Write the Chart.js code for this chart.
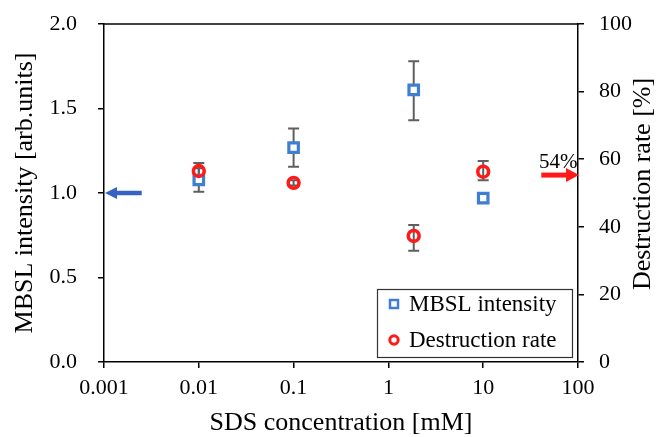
<!DOCTYPE html>
<html><head><meta charset="utf-8">
<script src="https://cdn.jsdelivr.net/npm/chart.js@4.4.0/dist/chart.umd.min.js"></script>
<style>html,body{margin:0;padding:0;background:#fff}#wrap{width:656px;height:437px}</style>
</head><body><div id="wrap"><canvas id="c" width="656" height="437"></canvas></div>
<script>
// ---- data ----
const concentrations = [0.01, 0.1, 1.85, 10];
const mbsl = [1.077, 1.268, 1.61, 0.97];
const mbslErrLow = [1.007, 1.155, 1.43, 0.955];
const mbslErrHigh = [1.147, 1.382, 1.78, 0.985];
const destruction = [56.5, 53.0, 37.3, 56.3];
const destErrLow = [54.0, 52.2, 32.9, 53.8];
const destErrHigh = [58.9, 53.8, 40.5, 59.5];
const xTickValues = [0.001, 0.01, 0.1, 1, 10, 100];
const xTickLabels = ['0.001', '0.01', '0.1', '1', '10', '100'];
const seriesNames = ['MBSL intensity', 'Destruction rate'];
const rightTitle = 'Destruction rate [%]';
const mbslRef = 1.0;
const mbslArrowFrom = 0.0025;
const destRefLabel = '54%';
const destArrowY = 55.3;
const destArrowFrom = 41;

const SERIF = "'Liberation Serif', 'Times New Roman', serif";
const BLUE = '#3f7fcf';
const RED = '#ff1a1a';
const ERR = '#5f5f5f';

const errorBars = {
  id: 'errorBars',
  beforeDatasetsDraw(chart) {
    const ctx = chart.ctx, xs = chart.scales.x;
    const sets = [
      {ys: chart.scales.y, lo: mbslErrLow, hi: mbslErrHigh},
      {ys: chart.scales.y2, lo: destErrLow, hi: destErrHigh}
    ];
    ctx.save();
    ctx.strokeStyle = ERR; ctx.lineWidth = 2;
    sets.forEach(s => {
      concentrations.forEach((c, i) => {
        const px = xs.getPixelForValue(c);
        const y1 = s.ys.getPixelForValue(s.lo[i]);
        const y2 = s.ys.getPixelForValue(s.hi[i]);
        ctx.beginPath();
        ctx.moveTo(px, y1); ctx.lineTo(px, y2);
        ctx.moveTo(px - 5.5, y1); ctx.lineTo(px + 5.5, y1);
        ctx.moveTo(px - 5.5, y2); ctx.lineTo(px + 5.5, y2);
        ctx.stroke();
      });
    });
    ctx.restore();
  }
};

function arrow(ctx, x0, x1, y, color, thick, headLen, headH) {
  const dir = Math.sign(x1 - x0);
  const hb = x1 - dir * headLen;
  ctx.save();
  ctx.fillStyle = color;
  ctx.fillRect(Math.min(x0, hb), y - thick / 2, Math.abs(hb - x0), thick);
  ctx.beginPath();
  ctx.moveTo(x1, y);
  ctx.lineTo(hb, y - headH / 2);
  ctx.lineTo(hb, y + headH / 2);
  ctx.closePath();
  ctx.fill();
  ctx.restore();
}

const extras = {
  id: 'extras',
  afterDraw(chart) {
    const ctx = chart.ctx, xs = chart.scales.x, ys = chart.scales.y, y2 = chart.scales.y2;
    const ca = chart.chartArea;
    // top frame
    ctx.save();
    ctx.strokeStyle = '#000'; ctx.lineWidth = 1.5;
    ctx.beginPath(); ctx.moveTo(ca.left - 0.75, ca.top); ctx.lineTo(ca.right + 0.75, ca.top); ctx.stroke();
    ctx.restore();
    // right axis title (reads bottom to top)
    ctx.save();
    ctx.translate(643, (ca.top + ca.bottom) / 2 - 9);
    ctx.rotate(-Math.PI / 2);
    ctx.fillStyle = '#000';
    ctx.font = '26px ' + SERIF;
    ctx.textAlign = 'center'; ctx.textBaseline = 'middle';
    ctx.fillText(rightTitle, 0, 0);
    ctx.restore();
    // arrows
    const by = ys.getPixelForValue(mbslRef);
    arrow(ctx, xs.getPixelForValue(mbslArrowFrom), xs.getPixelForValue(xTickValues[0]) + 1, by, '#3562c4', 4.5, 12, 12);
    const ry = y2.getPixelForValue(destArrowY);
    arrow(ctx, xs.getPixelForValue(destArrowFrom), xs.getPixelForValue(xTickValues[xTickValues.length - 1]) + 1, ry, '#ff1a1a', 5, 13, 14);
    ctx.save();
    ctx.fillStyle = '#000';
    ctx.font = '21px ' + SERIF;
    ctx.textAlign = 'center'; ctx.textBaseline = 'alphabetic';
    ctx.fillText(destRefLabel, xs.getPixelForValue(destArrowFrom) + 17, ry - 7);
    ctx.restore();
    // legend
    ctx.save();
    const lx = 377, ly = 289, lw = 195, lh = 68;
    ctx.fillStyle = '#fff';
    ctx.fillRect(lx, ly, lw, lh);
    ctx.strokeStyle = '#333'; ctx.lineWidth = 1.2;
    ctx.strokeRect(lx + 0.5, ly + 0.5, lw, lh);
    ctx.lineWidth = 2.5;
    ctx.strokeStyle = BLUE; ctx.fillStyle = '#fff';
    ctx.beginPath(); ctx.rect(394 - 4, 304 - 4, 8, 8); ctx.fill(); ctx.stroke();
    ctx.strokeStyle = RED; ctx.lineWidth = 3;
    ctx.beginPath(); ctx.arc(394, 340, 4.2, 0, Math.PI * 2); ctx.stroke();
    ctx.fillStyle = '#000';
    ctx.font = '23px ' + SERIF;
    ctx.textAlign = 'left'; ctx.textBaseline = 'middle';
    ctx.fillText(seriesNames[0], 409, 305);
    ctx.fillText(seriesNames[1], 409, 341);
    ctx.restore();
  }
};

const axisCommon = {
  grid: {display: true, drawOnChartArea: false, drawTicks: true, tickLength: 6, color: '#000', lineWidth: 1.5},
  border: {display: true, color: '#000', width: 1.5}
};

new Chart(document.getElementById('c'), {
  type: 'scatter',
  data: {
    datasets: [
      {
        label: seriesNames[0], yAxisID: 'y', order: 2,
        data: concentrations.map((c, i) => ({x: c, y: mbsl[i]})),
        pointStyle: 'rect', pointRadius: 6.7, pointHoverRadius: 6.7,
        borderColor: BLUE, backgroundColor: '#fff', pointBorderWidth: 3.2, borderWidth: 3.2
      },
      {
        label: seriesNames[1], yAxisID: 'y2', order: 1,
        data: concentrations.map((c, i) => ({x: c, y: destruction[i]})),
        pointStyle: 'circle', pointRadius: 5.4, pointHoverRadius: 5.4,
        borderColor: RED, backgroundColor: 'rgba(0,0,0,0)', pointBorderWidth: 3.6, borderWidth: 3.6
      }
    ]
  },
  options: {
    responsive: false, animation: false, devicePixelRatio: 1,
    layout: {padding: {top: 24, left: 0, right: 0, bottom: 0}},
    plugins: {legend: {display: false}, tooltip: {enabled: false}},
    scales: {
      x: Object.assign({}, axisCommon, {
        type: 'logarithmic', min: xTickValues[0], max: xTickValues[xTickValues.length - 1],
        afterBuildTicks: s => { s.ticks = xTickValues.map(v => ({value: v})); },
        afterFit: s => { s.height = 75; s.paddingLeft = 0; s.paddingRight = 0; },
        ticks: {
          color: '#000', font: {family: SERIF, size: 22}, padding: 7, maxRotation: 0, autoSkip: false,
          callback: (v) => { const i = xTickValues.indexOf(v); return i >= 0 ? xTickLabels[i] : ''; }
        },
        title: {display: true, text: 'SDS concentration [mM]', color: '#000',
          font: {family: SERIF, size: 26, lineHeight: 1}, padding: {top: 0, bottom: 1}}
      }),
      y: Object.assign({}, axisCommon, {
        type: 'linear', position: 'left', min: 0, max: 2,
        afterFit: s => { s.width = 104; s.paddingTop = 0; s.paddingBottom = 0; },
        ticks: {stepSize: 0.5, color: '#000', font: {family: SERIF, size: 22}, padding: 21,
          callback: v => Number(v).toFixed(1)},
        title: {display: true, text: 'MBSL intensity [arb.units]', color: '#000',
          font: {family: SERIF, size: 26, lineHeight: 1}, padding: {top: 12, bottom: 0}}
      }),
      y2: Object.assign({}, axisCommon, {
        type: 'linear', position: 'right', min: 0, max: 100,
        afterFit: s => { s.width = 78; s.paddingTop = 0; s.paddingBottom = 0; },
        ticks: {stepSize: 20, color: '#000', font: {family: SERIF, size: 22}, padding: 15},
        title: {display: false}
      })
    }
  },
  plugins: [errorBars, extras]
});
</script>
</body></html>
